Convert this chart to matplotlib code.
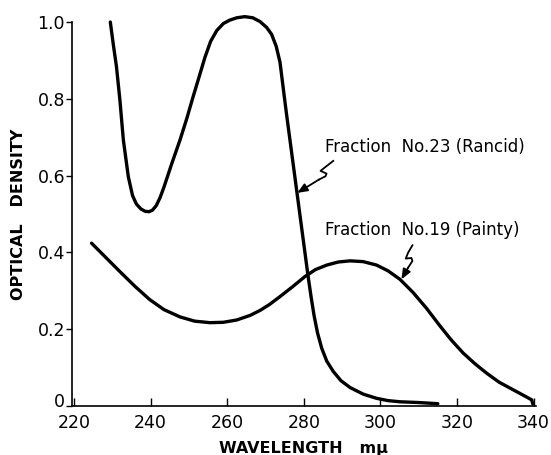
import numpy as np
import matplotlib
matplotlib.use('Agg')
from matplotlib import pyplot as plt
from matplotlib import transforms

# Fraction No.23 (Rancid)
rancid_wl = [229.5, 230.3, 231.1, 232.0, 232.9, 234.2, 235.3, 236.3, 237.5, 238.6,
             239.6, 240.5, 241.5, 242.5, 243.5, 244.5, 245.6, 247.7, 249.5, 251.1,
             252.7, 254.2, 255.7, 257.3, 259.0, 260.7, 262.5, 264.6, 266.7, 268.6,
             270.3, 271.6, 272.8, 273.8, 274.3, 274.8, 275.5, 276.3, 277.1, 277.9,
             278.7, 279.5, 280.3, 281.1, 281.9, 282.7, 283.6, 284.7, 286.0, 287.7,
             289.7, 292.1, 295.5, 299.0, 302.0, 305.1, 310.0, 315.0]
rancid_od = [1.00, 0.94, 0.884, 0.797, 0.693, 0.597, 0.548, 0.526, 0.513, 0.507,
             0.506, 0.510, 0.522, 0.543, 0.570, 0.600, 0.633, 0.693, 0.75, 0.805,
             0.858, 0.908, 0.950, 0.978, 0.996, 1.005, 1.011, 1.014, 1.011, 1.001,
             0.986, 0.968, 0.937, 0.895, 0.855, 0.815, 0.76, 0.70, 0.64, 0.58,
             0.52, 0.46, 0.40, 0.34, 0.285, 0.235, 0.19, 0.15, 0.117, 0.09,
             0.066, 0.048, 0.031, 0.020, 0.014, 0.011, 0.009, 0.006]

# Fraction No.19 (Painty)
painty_wl = [224.6, 228, 232, 236, 239.8, 243.5, 247.7, 251.5, 255.5, 259,
             262.5, 266, 268.6, 271, 273.8, 277, 280.3, 283, 286, 289,
             292.1, 295.5, 299, 302, 305.1, 308.5, 312, 315.6, 318.5, 321.6,
             324.7, 327.8, 331, 334.7, 337.5, 339.5, 339.8]
painty_od = [0.424, 0.39, 0.350, 0.311, 0.277, 0.251, 0.232, 0.221, 0.217, 0.218,
             0.224, 0.236, 0.249, 0.264, 0.285, 0.31, 0.337, 0.355, 0.367, 0.375,
             0.378, 0.376, 0.367, 0.352, 0.330, 0.296, 0.255, 0.208, 0.172, 0.138,
             0.11, 0.085, 0.062, 0.042, 0.027, 0.016, 0.005]

x_ticks = [220, 240, 260, 280, 300, 320, 340]
y_ticks = [0, 0.2, 0.4, 0.6, 0.8, 1.0]
y_ticklabels = ['0', '0.2', '0.4', '0.6', '0.8', '1.0']

labels = ['Fraction  No.23 (Rancid)', 'Fraction  No.19 (Painty)']

fig = plt.figure(figsize=(5.51, 4.55), dpi=100)
ax = fig.add_axes([0.1307, 0.1077, 0.9719 - 0.1307, 0.9516 - 0.1077])

ax.plot(rancid_wl, rancid_od, color='black', lw=2.4, clip_on=False,
        solid_capstyle='round', solid_joinstyle='round')
ax.plot(painty_wl, painty_od, color='black', lw=2.4, clip_on=False,
        solid_capstyle='round', solid_joinstyle='round')

ax.set_xlim(219.5, 340.5)
ax.set_ylim(0, 1.0)
ax.spines['top'].set_visible(False)
ax.spines['right'].set_visible(False)
ax.spines['left'].set_linewidth(1.2)
ax.spines['bottom'].set_linewidth(1.2)

ax.set_xticks(x_ticks)
ax.set_yticks(y_ticks)
ax.set_yticklabels(y_ticklabels)
ax.tick_params(axis='x', direction='in', length=6, width=1.0, pad=6, labelsize=12.5)
ax.tick_params(axis='y', direction='out', length=4, width=1.0, pad=1, labelsize=12.5)

# the "0" sits a little above the x axis in the original
for lab in ax.get_yticklabels():
    if lab.get_text() == '0':
        lab.set_transform(lab.get_transform() +
                          transforms.ScaledTranslation(0, 4 / 72, fig.dpi_scale_trans))

ax.set_xlabel('WAVELENGTH   m\u03bc', fontsize=11.5, fontweight='bold', labelpad=6)
ax.set_ylabel('OPTICAL   DENSITY', fontsize=11.5, fontweight='bold', labelpad=8)

# labels
ax.text(285.5, 0.674, labels[0], fontsize=12, va='center', ha='left')
ax.text(285.5, 0.458, labels[1], fontsize=12, va='center', ha='left')


def squiggle_arrow(tip, offs):
    # offs: pixel offsets from the tip, image-style (y down)
    tx, ty = ax.transData.transform(tip)
    xs = [tx + dx for dx, dy in offs]
    ys = [ty - dy for dx, dy in offs]
    ax.plot(xs, ys, color='black', lw=1.3, transform=transforms.IdentityTransform(),
            clip_on=False, solid_joinstyle='round')
    dx, dy = offs[-1]
    ax.annotate('', xy=tip, xycoords='data', xytext=(dx, -dy),
                textcoords='offset pixels',
                arrowprops=dict(arrowstyle='-|>,head_length=0.6,head_width=0.25',
                                lw=1.3, color='black', shrinkA=0, shrinkB=0))


squiggle_arrow((278.3, 0.555), [(36, -32), (28.3, -26), (23.3, -22), (29.3, -19.3),
                                (28.3, -16.7), (21.7, -13.3)])
squiggle_arrow((305.5, 0.33), [(11, -34), (6.7, -26.7), (4.3, -20.7), (10, -21.3),
                               (11, -18.3), (6.7, -11.7)])

fig.savefig('out.png', dpi=100)
